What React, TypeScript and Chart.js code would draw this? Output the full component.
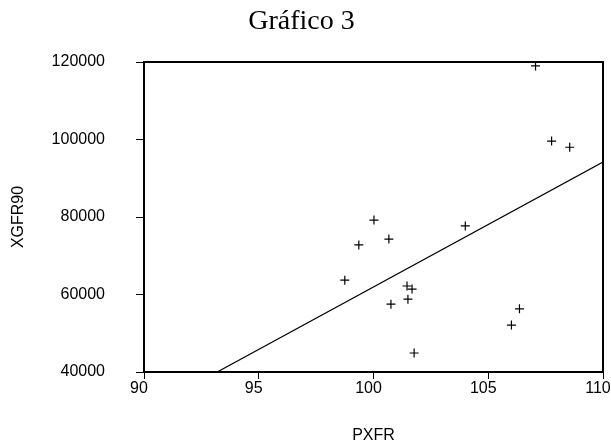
import React, { useEffect, useRef } from "react";
import { Chart, registerables } from "chart.js";

Chart.register(...registerables);

const pxfr = [107.06, 107.76, 108.55, 100.02, 99.36, 98.75, 100.67, 104.0, 101.46, 101.68, 101.5, 100.76, 106.36, 106.01, 101.77];
const xgfr90 = [119000, 99600, 98000, 79200, 72800, 63700, 74300, 77700, 62200, 61400, 58800, 57500, 56300, 52100, 44900];
const fitX = [93.19, 110];
const fitY = [40000, 94200];

const TITLE = "Gráfico 3";
const X_TITLE = "PXFR";
const Y_TITLE = "XGFR90";

const sans = "'Liberation Sans', Arial, sans-serif";
const serif = "'Liberation Serif', 'Times New Roman', serif";

const frame = {
  id: "frame",
  afterDatasetsDraw(chart: any) {
    const { ctx, chartArea: a } = chart;
    ctx.save();
    ctx.strokeStyle = "#000";
    ctx.lineWidth = 2;
    ctx.strokeRect(a.left, a.top, a.right - a.left, a.bottom - a.top);
    ctx.restore();
  },
};

export default function App() {
  const ref = useRef<HTMLCanvasElement | null>(null);
  useEffect(() => {
    if (!ref.current) return;
    const chart = new Chart(ref.current, {
      type: "scatter",
      data: {
        datasets: [
          {
            type: "scatter",
            data: pxfr.map((x, i) => ({ x, y: xgfr90[i] })),
            pointStyle: "cross",
            pointRadius: 4.5,
            pointBorderWidth: 1.2,
            borderColor: "#000",
            backgroundColor: "#000",
          },
          {
            type: "line",
            data: fitX.map((x, i) => ({ x, y: fitY[i] })),
            borderColor: "#000",
            borderWidth: 1.2,
            pointRadius: 0,
            fill: false,
          } as any,
        ],
      },
      options: {
        responsive: false,
        animation: false,
        layout: { padding: { left: 0, right: 8, top: 0, bottom: 0 } },
        plugins: {
          legend: { display: false },
          tooltip: { enabled: false },
          title: {
            display: true,
            text: TITLE,
            color: "#000",
            font: { family: serif, size: 28, weight: "normal" },
            padding: { top: 5, bottom: 23.4 },
          },
        },
        scales: {
          x: {
            type: "linear",
            min: 90,
            max: 110,
            border: { display: false },
            grid: { drawOnChartArea: false, drawTicks: true, tickLength: 7, color: "#000", tickColor: "#000" },
            ticks: {
              stepSize: 5,
              color: "#000",
              font: { family: sans, size: 16 },
              padding: 0,
              labelOffset: -5,
              maxRotation: 0,
            },
            title: {
              display: true,
              text: X_TITLE,
              color: "#000",
              font: { family: sans, size: 16 },
              padding: { top: 0, bottom: 2.4 },
            },
            afterFit(scale: any) {
              scale.height = 76;
              scale.paddingLeft = 0;
              scale.paddingRight = 0;
            },
          },
          y: {
            type: "linear",
            min: 40000,
            max: 120000,
            border: { display: false },
            grid: { drawOnChartArea: false, drawTicks: true, tickLength: 8, color: "#000", tickColor: "#000" },
            ticks: {
              stepSize: 20000,
              color: "#000",
              font: { family: sans, size: 16 },
              padding: 31,
              callback: (v: any) => String(v),
            },
            title: {
              display: true,
              text: Y_TITLE,
              color: "#000",
              font: { family: sans, size: 16 },
              padding: { top: 9.4, bottom: 0 },
            },
            afterFit(scale: any) {
              scale.width = 144;
              scale.paddingTop = 0;
              scale.paddingBottom = 0;
            },
          },
        },
      },
      plugins: [frame],
    });
    return () => chart.destroy();
  }, []);
  return (
    <div style={{ position: "absolute", left: 0, top: 0, width: 611, height: 448, background: "#fff" }}>
      <canvas ref={ref} width={611} height={448} style={{ display: "block" }} />
    </div>
  );
}
